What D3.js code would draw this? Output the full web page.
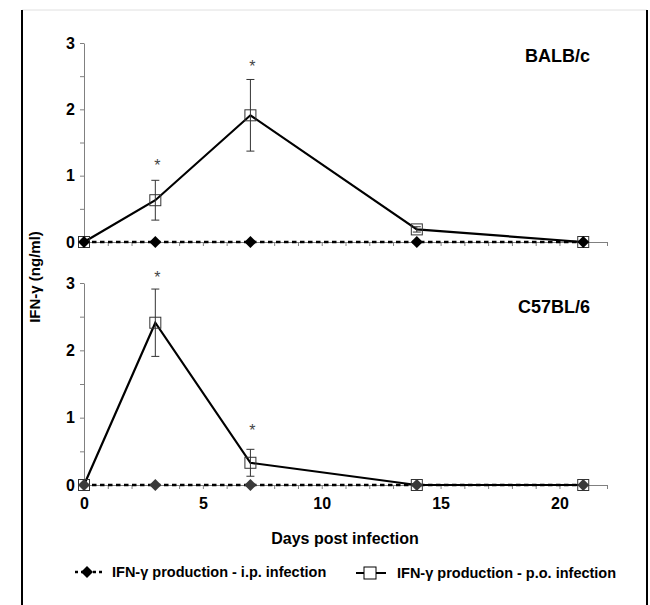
<!DOCTYPE html>
<html>
<head>
<meta charset="utf-8">
<script src="https://cdn.jsdelivr.net/npm/d3@7"></script>
<style>
  body { margin: 0; background: #fff; }
  text { font-family: "Liberation Sans", Arial, sans-serif; font-weight: bold; }
</style>
</head>
<body>
<div id="chart"></div>
<script>
// data
var days = [0, 3, 7, 14, 21];
var balbIp = [0, 0, 0, 0, 0];
var balbPo = [0, 0.63, 1.91, 0.19, 0];
var balbPoErr = [0.02, 0.3, 0.54, 0.04, 0.02];
var balbStarDays = [3, 7];
var balbStarY = [1.19, 2.69];
var c57Ip = [0, 0, 0, 0, 0];
var c57Po = [0, 2.41, 0.33, 0, 0];
var c57PoErr = [0.02, 0.5, 0.2, 0.01, 0.01];
var c57StarDays = [3, 7];
var c57StarY = [3.12, 0.85];
var yTicks = [0, 0.5, 1, 1.5, 2, 2.5, 3];
var xTickLabels = [0, 5, 10, 15, 20];
var legendLabels = ["IFN-\u03b3 production - i.p. infection", "IFN-\u03b3 production - p.o. infection"];

var width = 650, height = 605;

var svg = d3.select("#chart")
  .append("svg")
  .attr("width", width)
  .attr("height", height);

// frame
svg.append("line").attr("x1", 22).attr("x2", 647).attr("y1", 10).attr("y2", 10)
  .style("stroke", "#e0e0e0").style("stroke-width", 1);
svg.append("line").attr("x1", 22).attr("x2", 22).attr("y1", 10).attr("y2", 605)
  .style("stroke", "#000").style("stroke-width", 2);
svg.append("line").attr("x1", 647).attr("x2", 647).attr("y1", 10).attr("y2", 605)
  .style("stroke", "#000").style("stroke-width", 2);

var x = d3.scaleLinear().domain([0, 22]).range([84, 607]);

var diamond = "M0,-6L6,0L0,6L-6,0Z";

var panels = [
  {name: "BALB/c", ip: balbIp, po: balbPo, err: balbPoErr, starDays: balbStarDays, starY: balbStarY,
   range: [242, 43], labelY: 62, diamondFill: "#000", last: false},
  {name: "C57BL/6", ip: c57Ip, po: c57Po, err: c57PoErr, starDays: c57StarDays, starY: c57StarY,
   range: [485, 283], labelY: 313, diamondFill: "#3a3a3a", last: true}
];

panels.forEach(function (p) {
  var y = d3.scaleLinear().domain([0, 3]).range(p.range);
  var g = svg.append("g");

  // y axis
  var yAxis = d3.axisLeft(y)
    .tickValues(yTicks)
    .tickSize(4)
    .tickSizeOuter(0)
    .tickPadding(5)
    .tickFormat(function (d) { return Number.isInteger(d) ? d : ""; });
  var ya = g.append("g")
    .attr("transform", "translate(" + x(0) + ",0)")
    .call(yAxis);
  ya.select(".domain").style("stroke", "#808080");
  ya.selectAll(".tick line").style("stroke", "#808080");
  ya.selectAll("text").style("font-size", "16px").style("fill", "#000").style("font-weight", "bold")
    .style("font-family", "Liberation Sans, Arial, sans-serif");

  // x axis
  var xAxis = d3.axisBottom(x)
    .tickValues(d3.range(0, 23))
    .tickSize(4)
    .tickSizeOuter(0)
    .tickPadding(9)
    .tickFormat(function (d) { return p.last && xTickLabels.indexOf(d) > -1 ? d : ""; });
  var xa = g.append("g")
    .attr("transform", "translate(0," + y(0) + ")")
    .call(xAxis);
  xa.select(".domain").style("stroke", "#808080");
  xa.selectAll(".tick line").style("stroke", "#808080");
  xa.selectAll("text").style("font-size", "16px").style("fill", "#000").style("font-weight", "bold")
    .style("font-family", "Liberation Sans, Arial, sans-serif");

  var ipData = days.map(function (d, i) { return {day: d, v: p.ip[i]}; });
  var poData = days.map(function (d, i) { return {day: d, v: p.po[i], e: p.err[i]}; });

  // i.p. dashed line
  g.append("path")
    .datum(ipData)
    .attr("d", d3.line().x(function (d) { return x(d.day); }).y(function (d) { return y(d.v); }))
    .style("fill", "none")
    .style("stroke", "#000")
    .style("stroke-width", 2.5)
    .style("stroke-dasharray", "4.5,3.5");

  // p.o. solid line
  g.append("path")
    .datum(poData)
    .attr("d", d3.line().x(function (d) { return x(d.day); }).y(function (d) { return y(d.v); }))
    .style("fill", "none")
    .style("stroke", "#000")
    .style("stroke-width", 2.2);

  // error bars
  var eb = g.selectAll(".eb").data(poData).enter().append("g");
  eb.append("line")
    .attr("x1", function (d) { return x(d.day); })
    .attr("x2", function (d) { return x(d.day); })
    .attr("y1", function (d) { return y(d.v + d.e); })
    .attr("y2", function (d) { return y(Math.max(0, d.v - d.e)); })
    .style("stroke", "#333").style("stroke-width", 1);
  eb.append("line")
    .attr("x1", function (d) { return x(d.day) - 4; })
    .attr("x2", function (d) { return x(d.day) + 4; })
    .attr("y1", function (d) { return y(d.v + d.e); })
    .attr("y2", function (d) { return y(d.v + d.e); })
    .style("stroke", "#333").style("stroke-width", 1);
  eb.append("line")
    .attr("x1", function (d) { return x(d.day) - 4; })
    .attr("x2", function (d) { return x(d.day) + 4; })
    .attr("y1", function (d) { return y(Math.max(0, d.v - d.e)); })
    .attr("y2", function (d) { return y(Math.max(0, d.v - d.e)); })
    .style("stroke", "#333").style("stroke-width", 1);

  // p.o. square markers
  g.selectAll(".sq").data(poData).enter().append("rect")
    .attr("x", function (d) { return x(d.day) - 5.5; })
    .attr("y", function (d) { return y(d.v) - 5.5; })
    .attr("width", 11).attr("height", 11)
    .style("fill", "none")
    .style("stroke", "#333")
    .style("stroke-width", 1);

  // i.p. diamonds
  g.selectAll(".dm").data(ipData).enter().append("path")
    .attr("d", diamond)
    .attr("transform", function (d) { return "translate(" + x(d.day) + "," + y(d.v) + ")"; })
    .style("fill", p.diamondFill);

  // significance stars
  g.selectAll(".star").data(p.starDays).enter().append("text")
    .attr("x", function (d) { return x(d) + 2; })
    .attr("y", function (d, i) { return y(p.starY[i]) + 8; })
    .attr("text-anchor", "middle")
    .style("font-size", "16px")
    .style("font-weight", "normal")
    .style("fill", "#444")
    .text("*");

  g.append("text")
    .attr("x", 590)
    .attr("y", p.labelY)
    .attr("text-anchor", "end")
    .style("font-size", "18px")
    .text(p.name);
});

// axis titles
svg.append("text")
  .attr("transform", "translate(40,277) rotate(-90)")
  .attr("text-anchor", "middle")
  .style("font-size", "15px")
  .text("IFN-\u03b3 (ng/ml)");

svg.append("text")
  .attr("x", 345)
  .attr("y", 544)
  .attr("text-anchor", "middle")
  .style("font-size", "16px")
  .text("Days post infection");

// legend
var lg1 = svg.append("g").attr("transform", "translate(87,572)");
lg1.append("line").attr("x1", -12).attr("x2", 16).attr("y1", 0).attr("y2", 0)
  .style("stroke", "#000").style("stroke-width", 2.5).style("stroke-dasharray", "3,3");
lg1.append("path").attr("d", diamond).style("fill", "#000");
lg1.append("text").attr("x", 25).attr("y", 5).style("font-size", "14.5px").text(legendLabels[0]);

var lg2 = svg.append("g").attr("transform", "translate(370,573)");
lg2.append("line").attr("x1", -14).attr("x2", 16).attr("y1", 0).attr("y2", 0)
  .style("stroke", "#000").style("stroke-width", 2);
lg2.append("rect").attr("x", -6).attr("y", -6).attr("width", 12).attr("height", 12)
  .style("fill", "#fff").style("stroke", "#000").style("stroke-width", 1);
lg2.append("text").attr("x", 27).attr("y", 5).style("font-size", "14.5px").text(legendLabels[1]);
</script>
</body>
</html>
